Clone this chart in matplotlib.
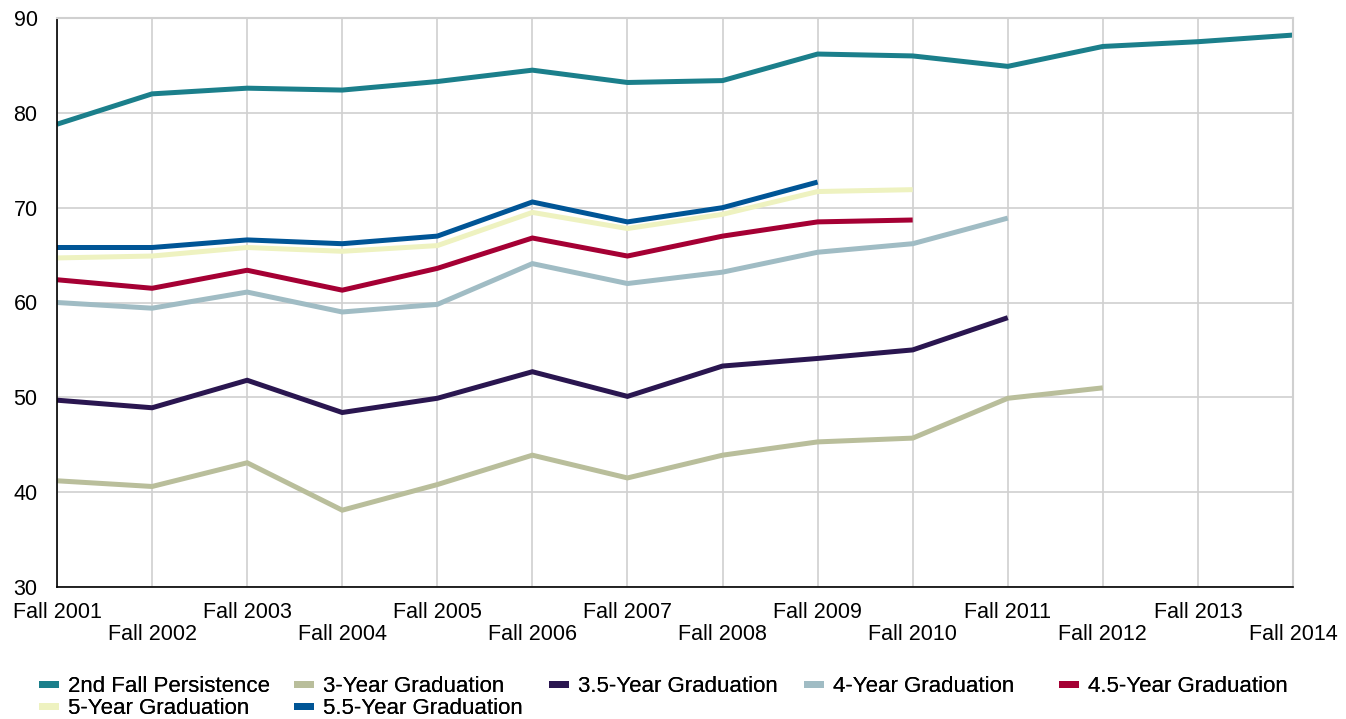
import numpy as np
import matplotlib
matplotlib.use("Agg")
import matplotlib.pyplot as plt
from matplotlib.lines import Line2D

# Donnees
cohortes = ["Fall 2001", "Fall 2002", "Fall 2003", "Fall 2004", "Fall 2005",
            "Fall 2006", "Fall 2007", "Fall 2008", "Fall 2009", "Fall 2010",
            "Fall 2011", "Fall 2012", "Fall 2013", "Fall 2014"]

persistance = [78.8, 82.0, 82.6, 82.4, 83.3, 84.5, 83.2, 83.4, 86.2, 86.0, 84.9, 87.0, 87.5, 88.2]
grad_3 = [41.2, 40.6, 43.1, 38.1, 40.8, 43.9, 41.5, 43.9, 45.3, 45.7, 49.9, 51.0]
grad_35 = [49.7, 48.9, 51.8, 48.4, 49.9, 52.7, 50.1, 53.3, 54.1, 55.0, 58.4]
grad_4 = [60.0, 59.4, 61.1, 59.0, 59.8, 64.1, 62.0, 63.2, 65.3, 66.2, 68.9]
grad_45 = [62.4, 61.5, 63.4, 61.3, 63.6, 66.8, 64.9, 67.0, 68.5, 68.7]
grad_5 = [64.7, 64.9, 65.8, 65.4, 66.0, 69.5, 67.8, 69.3, 71.7, 71.9]
grad_55 = [65.8, 65.8, 66.6, 66.2, 67.0, 70.6, 68.5, 70.0, 72.7]

noms = ["2nd Fall Persistence", "3-Year Graduation", "3.5-Year Graduation",
        "4-Year Graduation", "4.5-Year Graduation", "5-Year Graduation",
        "5.5-Year Graduation"]
series = [persistance, grad_3, grad_35, grad_4, grad_45, grad_5, grad_55]
couleurs = ["#1b7f8b", "#b9be9b", "#2a1650", "#a0bcc4", "#a50034", "#eef2c0", "#005596"]

plt.rcParams['font.family'] = ['Liberation Sans', 'DejaVu Sans']
taille = 15.5


def tracer(ax):
    # ordre de dessin : les series du haut par-dessus
    for nom, valeurs, c in zip(noms, series, couleurs):
        x = np.arange(len(valeurs))
        ax.plot(x, valeurs, color=c, linewidth=3.6, solid_capstyle='butt',
                solid_joinstyle='miter', label=nom)

    ax.set_xlim(0, len(cohortes) - 1)
    ax.set_ylim(30, 90)
    ax.set_yticks(np.arange(30, 91, 10))
    ax.set_xticks(np.arange(len(cohortes)))
    # une etiquette sur deux decalee vers le bas
    etiquettes = [c if i % 2 == 0 else "\n" + c for i, c in enumerate(cohortes)]
    ax.set_xticklabels(etiquettes, linespacing=1.05)

    ax.tick_params(axis='both', length=0, labelsize=taille, colors='black')
    ax.tick_params(axis='y', pad=14)
    ax.tick_params(axis='x', pad=11)
    ax.grid(True, color='#d0d0d0', linewidth=1.2)
    ax.set_axisbelow(True)
    for cote in ['top', 'right']:
        ax.spines[cote].set_color('#d0d0d0')
        ax.spines[cote].set_linewidth(1.5)
    for cote in ['left', 'bottom']:
        ax.spines[cote].set_color('black')
        ax.spines[cote].set_linewidth(1.2)


def legende(fig):
    # 5 colonnes de largeur egale, comme sur l'original
    colonnes = [[0, 5], [1, 6], [2], [3], [4]]
    for j, idx in enumerate(colonnes):
        poignees = [Line2D([], [], color=couleurs[i], linewidth=5) for i in idx]
        leg = fig.legend(poignees, [noms[i] for i in idx],
                         loc='upper left', bbox_to_anchor=(0.031 + j * 255 / 1346, 0.06),
                         frameon=False, fontsize=16, handlelength=0.6,
                         handletextpad=0.6, labelspacing=0.05, borderpad=0,
                         borderaxespad=0)
        fig.add_artist(leg)


if __name__ == "__main__":
    fig = plt.figure(figsize=(13.46, 7.19), dpi=100)
    ax = fig.add_axes([57 / 1346, 1 - 587 / 719, (1293 - 57) / 1346, (587 - 18) / 719])
    tracer(ax)
    legende(fig)
    fig.savefig("out.png", dpi=100)
